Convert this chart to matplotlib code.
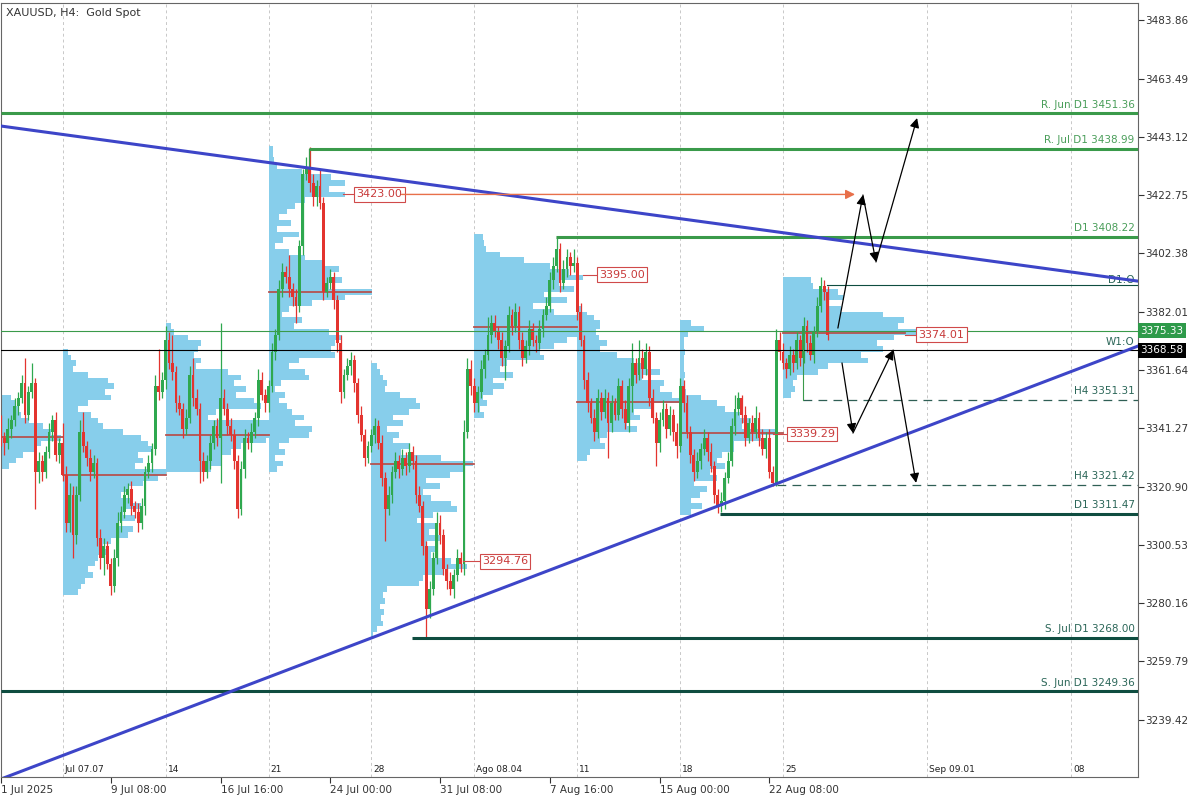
import matplotlib
matplotlib.use('Agg')
import matplotlib.pyplot as plt
import matplotlib.transforms as mtransforms

plt.rcParams['font.family'] = ['DejaVu Sans']

# ===== data: H4 candles (bar index 0 = 1 Jul 2025 00:00) =====
open0 = 3343
closes = [
    # week of 1 Jul
    3338, 3336, 3341, 3344, 3349, 3352, 3357, 3346, 3354, 3357, 3326, 3330, 3326, 3333, 3340, 3344, 3332, 3336,
    # week of 7 Jul
    3325, 3308, 3318, 3304, 3318, 3340, 3335, 3331, 3326, 3329, 3303, 3296, 3300, 3294, 3286,
    3296, 3308, 3312, 3318, 3320, 3314, 3312, 3308, 3314, 3326, 3329, 3334, 3356, 3354, 3358,
    # week of 14 Jul
    3372, 3364, 3361, 3350, 3348, 3341, 3345, 3360, 3352, 3348, 3330, 3326, 3330, 3336, 3342,
    3338, 3352, 3348, 3342, 3339, 3330, 3313, 3327, 3338, 3336, 3340, 3345, 3358, 3353, 3350,
    # week of 21 Jul
    3356, 3368, 3374, 3390, 3396, 3394, 3390, 3387, 3384, 3405, 3430, 3432, 3427, 3422, 3426,
    3420, 3389, 3392, 3394, 3386, 3371, 3354, 3360, 3363, 3365, 3357, 3346, 3339, 3331, 3335,
    # week of 28 Jul
    3339, 3342, 3336, 3324, 3313, 3318, 3326, 3330, 3327, 3331, 3328, 3333, 3330, 3318, 3314,
    3300, 3278, 3285, 3296, 3308, 3304, 3292, 3288, 3285, 3290, 3296, 3294, 3340, 3362, 3356,
    # week of 4 Aug
    3350, 3354, 3362, 3367, 3374, 3378, 3375, 3372, 3366, 3370, 3381, 3377, 3382, 3372, 3366,
    3370, 3376, 3372, 3371, 3376, 3381, 3384, 3393, 3398, 3404, 3392, 3397, 3401, 3398, 3399,
    # week of 11 Aug
    3382, 3372, 3358, 3350, 3345, 3340, 3352, 3347, 3352, 3343, 3350, 3346, 3356, 3348, 3343,
    3356, 3364, 3360, 3366, 3362, 3368, 3352, 3345, 3336, 3344, 3348, 3341, 3346, 3340, 3335,
    # week of 18 Aug
    3356, 3350, 3340, 3332, 3326, 3330, 3334, 3338, 3333, 3328, 3318, 3314, 3316, 3324, 3330,
    3342, 3348, 3352, 3346, 3338, 3343, 3340, 3345, 3338, 3334, 3338, 3326, 3322, 3372, 3368,
    # week of 25 Aug
    3364, 3362, 3367, 3364, 3372, 3366, 3377, 3371, 3367, 3375, 3384, 3391, 3389, 3374,
]
wick_up = [
    3, 2, 4, 2, 3, 2, 3, 9, 2, 7, 2, 3, 2, 2, 3, 2, 3, 2,
    7, 3, 4, 3, 3, 4, 7, 2, 3, 3, 2, 3, 3, 2, 2, 3, 4, 2, 3, 2, 3, 2, 3, 3, 2, 3, 2, 4, 13, 3,
    5, 3, 10, 2, 3, 2, 3, 3, 6, 3, 2, 3, 2, 3, 2, 3, 26, 3, 2, 3, 2, 2, 3, 3, 2, 3, 2, 4, 3, 2,
    2, 3, 2, 3, 3, 2, 8, 2, 3, 2, 2, 4, 7.5, 3, 2, 6, 2, 2, 3, 2, 2, 3, 2, 3, 3, 2, 2, 3, 2, 2,
    2, 3, 2, 3, 2, 3, 2, 3, 2, 3, 2, 3, 2, 2, 3, 2, 2, 3, 2, 4, 3, 2, 2, 3, 2, 3, 2, 4, 4, 3,
    3, 2, 3, 2, 6, 3, 3, 2, 3, 2, 3, 2, 3, 2, 3, 2, 3, 2, 2, 3, 2, 3, 3, 3, 4.5, 2, 3, 3, 2, 5,
    2, 3, 2, 3, 2, 3, 3, 2, 3, 2, 3, 2, 3, 2, 3, 3, 7, 2, 6, 3, 3, 2, 3, 2, 3, 3, 2, 3, 2, 3,
    3, 2, 3, 2, 2, 3, 2, 3, 2, 3, 2, 2, 3, 2, 3, 3, 5, 2, 1, 3, 2, 3, 4, 2, 3, 2, 3, 2, 4, 3,
    3, 2, 3, 2, 3, 2, 3, 2, 3, 2, 3, 3, 2, 2,
]
wick_dn = [
    3, 4, 2, 3, 2, 3, 2, 3, 2, 2, 13, 4, 3, 2, 2, 3, 2, 3,
    2, 3, 3, 8, 3, 2, 2, 3, 3, 2, 3, 4, 6, 2, 3, 2, 3, 3, 2, 3, 3, 2, 3, 2, 3, 2, 3, 2, 3, 2,
    3, 2, 3, 3, 2, 3, 2, 2, 3, 2, 8, 3, 2, 3, 2, 3, 16, 2, 3, 2, 3, 3, 2, 3, 2, 3, 2, 3, 2, 3,
    3, 2, 3, 2, 3, 2, 3, 3, 6, 2, 3, 2, 3, 3, 3, 2, 3, 2, 2, 3, 3, 4, 2, 2, 3, 3, 3, 2, 3, 2,
    2, 3, 2, 3, 11, 2, 3, 2, 3, 2, 3, 2, 3, 3, 2, 3, 9.5, 3, 2, 2, 3, 2, 3, 2, 3, 2, 3, 4, 2, 3,
    3, 3, 2, 3, 2, 3, 2, 3, 3, 8, 2, 3, 2, 3, 3, 2, 3, 2, 3, 2, 3, 2, 2, 3, 2, 3, 2, 3, 3, 2,
    3, 2, 3, 3, 2, 3, 2, 3, 2, 12, 3, 2, 2, 3, 2, 3, 9, 3, 2, 3, 2, 3, 2, 8, 3, 2, 3, 2, 3, 4,
    2, 3, 2, 3, 3, 2, 3, 2, 3, 2, 3, 2.5, 2, 3, 2, 2, 3, 2, 3, 3, 2, 3, 2, 3, 2, 3, 2, 1, 1, 3,
    2, 3, 2, 3, 2, 3, 2, 3, 2, 3, 2, 2, 3, 2,
]

# ===== weekly volume profiles (2-dollar bins, from top price downwards) =====
prof_start = [0, 18, 48, 78, 108, 138, 168, 198, 228]
prof_top = [3353, 3369, 3378, 3440, 3364, 3409, 3384, 3379, 3394]
prof_vol = [
    [10, 14, 18, 20, 28, 42, 50, 60, 40, 35, 22, 15, 8],
    [5, 8, 13, 10, 25, 45, 51, 42, 48, 25, 15, 28, 35, 40, 60, 78, 85, 90, 75, 80, 72, 103,
     95, 80, 65, 58, 70, 78, 60, 72, 55, 70, 65, 48, 40, 45, 35, 32, 25, 30, 22, 18, 15],
    [5, 8, 22, 35, 32, 28, 35, 30, 62, 75, 68, 80, 70, 88, 95, 50, 42, 115, 145, 135, 100, 75,
     65, 55, 55, 45],
    [4, 4, 5, 8, 33, 62, 76, 60, 76, 36, 26, 18, 10, 22, 8, 30, 14, 6, 20, 36,
     55, 70, 62, 73, 60, 103, 76, 43, 20, 13, 33, 25, 60, 73, 66, 62, 66, 30, 20, 36,
     40, 12, 6, 16, 10, 18, 23, 35, 26, 43, 40, 20, 10, 16, 6, 14, 8],
    [6, 9, 12, 16, 14, 29, 45, 49, 38, 22, 32, 16, 28, 22, 39, 30, 70, 102, 92, 79,
     55, 69, 52, 60, 80, 86, 62, 46, 66, 58, 69, 56, 64, 60, 80, 96, 72, 52, 48, 16,
     12, 14, 9, 13, 10, 12, 6, 2],
    [9, 10, 12, 26, 50, 76, 95, 109, 85, 100, 70, 93, 59, 80, 120, 126, 118, 113, 93, 80,
     66, 70, 33, 26, 39, 19, 30, 19, 9, 13, 6, 10],
    [5, 10, 17, 23, 19, 22, 30, 23, 40, 57, 70, 83, 65, 87, 83, 95, 103, 77, 57, 63,
     50, 60, 30, 23, 28, 13, 10],
    [11, 24, 8, 4, 4, 5, 4, 4, 4, 5, 4, 4, 6, 21, 37, 45, 60, 71, 62, 97,
     81, 54, 54, 42, 37, 45, 30, 37, 14, 27, 20, 11, 22, 11],
    [28, 30, 55, 61, 44, 58, 100, 121, 115, 134, 111, 94, 100, 78, 85, 45, 35, 14, 10, 12, 8],
]
poc_price = [3338.3, 3325.0, 3339.0, 3389.0, 3328.8, 3376.7, 3350.6, 3339.6, 3374.6]
poc_end = [18, 48, 78, 108, 138, 168, 198, 228, 263.6]

# boxed price labels
box_price = [3423.00, 3395.00, 3294.76, 3339.29, 3374.01]
box_from = [99.7, 169.7, 134.7, 225.0, 263.6]
box_left = [103.2, 174.0, 139.7, 229.2, 267.0]

# horizontal levels: (label, price, start bar, kind)
level_names = ['R. Jun D1', 'R. Jul D1', 'D1', 'D1', 'S. Jul D1', 'S. Jun D1']
level_prices = [3451.36, 3438.99, 3408.22, 3311.47, 3268.00, 3249.36]
level_start = [0, 89.8, 161.8, 209.6, 119.8, 0]
level_kind = ['res', 'res', 'res', 'sup', 'sup', 'sup']
h4_prices = [3351.31, 3321.42]
h4_start = [233.8, 226.2]
d1_open, d1_open_start = 3391.3, 240.8
w1_line = 3375.33
bid_line = 3368.58

# trendlines (bar, price)
upper_tl = ([0, 331.5], [3446.9, 3392.7])
lower_tl = ([0, 331.5], [3218.7, 3370.0])

# scenario arrows (bar, price) paths
path_up = [(244.0, 3376.3), (251.3, 3422.8), (255.1, 3399.4), (267.1, 3449.7)]
path_dn = [(245.2, 3364.1), (248.4, 3339.6), (260.1, 3368.6), (266.8, 3322.2)]

# axes labels
yticks = [3483.86, 3463.49, 3443.12, 3422.75, 3402.38, 3382.01, 3361.64,
          3341.27, 3320.90, 3300.53, 3280.16, 3259.79, 3239.42]
xtick_bars = [0, 32, 64, 96, 128, 160, 192, 224]
xtick_labels = ['1 Jul 2025', '9 Jul 08:00', '16 Jul 16:00', '24 Jul 00:00',
                '31 Jul 08:00', '7 Aug 16:00', '15 Aug 00:00', '22 Aug 08:00']
week_bars = [18, 48, 78, 108, 138, 168, 198, 228, 270, 312]
week_labels = ['Jul 07.07', '14', '21', '28', 'Ago 08.04', '11', '18', '25', 'Sep 09.01', '08']

# ===== drawing =====
PX_PER_BAR = 3.43
green_c = '#2fa84f'
red_c = '#e3342f'
res_c = '#3a9a4a'
sup_c = '#0f4d40'
lab_sup = '#2b6658'

fig = plt.figure(figsize=(12, 8), dpi=100)
ax = fig.add_axes([1 / 1200, 23 / 800, 1137 / 1200, 774 / 800])
ax.set_xlim(0, 331.5)
ax.set_ylim(3219.4, 3489.9)
right_t = mtransforms.blended_transform_factory(ax.transAxes, ax.transData)
bottom_t = mtransforms.blended_transform_factory(ax.transData, ax.transAxes)

# week separators
for b in week_bars:
    ax.axvline(b, color='#c8c8c8', ls=(0, (3, 3)), lw=0.7, zorder=0)
for b, lab in zip(week_bars, week_labels):
    ax.text(b + 0.6, 0.004, lab, transform=bottom_t, fontsize=6.5, color='#222',
            ha='left', va='bottom')

# volume profiles
for s, top, vols in zip(prof_start, prof_top, prof_vol):
    centers = [top - 2 * i - 1 for i in range(len(vols))]
    ax.barh(centers, [v / PX_PER_BAR for v in vols], height=2, left=s,
            color='#87ceeb', linewidth=0, zorder=1)
for s, e, p in zip(prof_start, poc_end, poc_price):
    ax.plot([s, e], [p, p], color='#b5524f', lw=1.3, zorder=2)

# candles
opens = [open0] + closes[:-1]
xs = list(range(len(closes)))
highs = [max(o, c) + u for o, c, u in zip(opens, closes, wick_up)]
lows = [min(o, c) - d for o, c, d in zip(opens, closes, wick_dn)]
cols = [green_c if c >= o else red_c for o, c in zip(opens, closes)]
ax.vlines(xs, lows, highs, colors=cols, lw=0.9, zorder=3)
ax.bar(xs, [max(abs(c - o), 0.5) for o, c in zip(opens, closes)],
       bottom=[min(o, c) for o, c in zip(opens, closes)],
       width=0.82, color=cols, linewidth=0, zorder=3)

# thin full-width lines
ax.axhline(w1_line, color='#3a9a4a', lw=0.8, zorder=4)
ax.axhline(bid_line, color='black', lw=0.8, zorder=4)
ax.plot([d1_open_start, 331.5], [d1_open, d1_open], color=sup_c, lw=0.8, zorder=4)
ax.text(0.997, d1_open, 'D1:O', transform=right_t, ha='right', va='bottom',
        fontsize=7.5, color=lab_sup)
ax.text(0.997, bid_line + 1.0, 'W1:O', transform=right_t, ha='right', va='bottom',
        fontsize=7.5, color=lab_sup)

# support / resistance levels
for name, p, s, k in zip(level_names, level_prices, level_start, level_kind):
    c = res_c if k == 'res' else sup_c
    ax.plot([s, 331.5], [p, p], color=c, lw=2.2, zorder=4, solid_capstyle='butt')
    ax.text(0.997, p + 1.3, f'{name} {p:.2f}', transform=right_t, ha='right',
            va='bottom', fontsize=7.5, color='#4a9e5a' if k == 'res' else lab_sup)
ax.plot([89.8, 89.8], [3438.99, 3432], color=res_c, lw=0.9, zorder=4)
for p, s in zip(h4_prices, h4_start):
    ax.plot([s, 331.5], [p, p], color='#2f5f55', lw=0.9, ls=(0, (7, 5)), zorder=4)
    ax.text(0.997, p + 1.3, f'H4 {p:.2f}', transform=right_t, ha='right',
            va='bottom', fontsize=7.5, color=lab_sup)
ax.plot([h4_start[0], h4_start[0]], [h4_prices[0], 3376], color=res_c, lw=0.8, zorder=4)

# trendlines
ax.plot(*upper_tl, color='#3d45c8', lw=2.2, zorder=5)
ax.plot(*lower_tl, color='#3d45c8', lw=2.2, zorder=5)

# boxed price labels
for p, x0, xl in zip(box_price, box_from, box_left):
    ax.plot([x0, xl], [p, p], color='#d04a4a', lw=0.8, zorder=5)
    ax.text(xl + 0.5, p, f'{p:.2f}', fontsize=8, color='#c83a3a', ha='left', va='center',
            zorder=6, bbox=dict(boxstyle='square,pad=0.2', fc='white', ec='#d04a4a', lw=0.8))
ax.annotate('', xy=(249.0, box_price[0]), xytext=(116.8, box_price[0]),
            arrowprops=dict(arrowstyle='-|>', color='#e8704a', lw=1.0,
                            mutation_scale=14, shrinkA=0, shrinkB=0), zorder=6)

# scenario arrows
for path in (path_up, path_dn):
    for a, b in zip(path[:-1], path[1:]):
        ax.annotate('', xy=b, xytext=a,
                    arrowprops=dict(arrowstyle='-|>', color='black', lw=0.9,
                                    mutation_scale=14, shrinkA=0, shrinkB=0), zorder=7)

# price scale
ax.yaxis.tick_right()
ax.set_yticks(yticks)
ax.set_yticklabels([f'{v:.2f}' for v in yticks])
ax.tick_params(axis='y', direction='out', length=4, pad=1, labelsize=7.5,
               colors='#333', width=0.8)
ax.text(1.002, w1_line, f'{w1_line:.2f}', transform=right_t, ha='left', va='center',
        fontsize=7.5, color='white',
        bbox=dict(boxstyle='square,pad=0.25', fc='#2e9a4a', ec='none'))
ax.text(1.002, bid_line, f'{bid_line:.2f}', transform=right_t, ha='left', va='center',
        fontsize=7.5, color='white',
        bbox=dict(boxstyle='square,pad=0.25', fc='black', ec='none'))

# time scale
ax.set_xticks(xtick_bars)
ax.set_xticklabels(xtick_labels)
ax.tick_params(axis='x', direction='out', length=4, pad=2, labelsize=7.5,
               colors='#333', width=0.8)
for lab in ax.get_xticklabels():
    lab.set_ha('left')

for sp in ax.spines.values():
    sp.set_color('#666')
    sp.set_linewidth(0.8)

ax.text(0.004, 0.993, 'XAUUSD, H4:  Gold Spot', transform=ax.transAxes, fontsize=8,
        color='#333', ha='left', va='top')

plt.savefig('out.png', dpi=100)
plt.close()
